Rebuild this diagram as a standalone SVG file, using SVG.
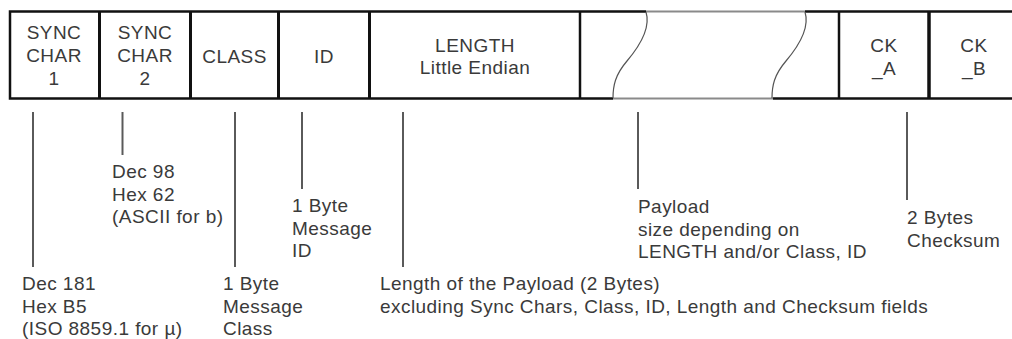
<svg xmlns="http://www.w3.org/2000/svg" width="1012" height="339" viewBox="0 0 1012 339">
<style>
text{font-family:"Liberation Sans",Arial,sans-serif;font-size:19px;letter-spacing:0.45px;fill:#3a3a3a}
.c{text-anchor:middle}
.b{stroke:#111;fill:none}
.g{stroke:#8a8a8a;fill:none;stroke-width:2}
.lead{stroke:#5a5a5a;stroke-width:2;fill:none}
.wave{stroke:#555;stroke-width:1.2;fill:none}
</style>
<rect width="1012" height="339" fill="#fff"/>
<g id="frame">
<polyline class="b" stroke-width="2.5" points="646,11.5 10,11.5 10,98.5 613,98.5"/>
<line class="g" x1="646" y1="11.5" x2="805" y2="11.5"/>
<line class="g" x1="613" y1="98.5" x2="773" y2="98.5"/>
<line class="b" stroke-width="2.5" x1="805" y1="11.5" x2="1012" y2="11.5"/>
<line class="b" stroke-width="2.5" x1="773" y1="98.5" x2="1012" y2="98.5"/>
</g>
<g id="sync1">
<text class="c" x="54" y="39">SYNC</text>
<text class="c" x="54" y="62">CHAR</text>
<text class="c" x="54" y="85">1</text>
</g>
<g id="sync2">
<line class="b" stroke-width="3" x1="99.5" y1="11" x2="99.5" y2="99"/>
<text class="c" x="145" y="39">SYNC</text>
<text class="c" x="145" y="62">CHAR</text>
<text class="c" x="145" y="85">2</text>
</g>
<g id="class">
<line class="b" stroke-width="3" x1="190.5" y1="11" x2="190.5" y2="99"/>
<text class="c" x="234.5" y="63">CLASS</text>
</g>
<g id="id">
<line class="b" stroke-width="3" x1="278.5" y1="11" x2="278.5" y2="99"/>
<text class="c" x="324" y="63">ID</text>
</g>
<g id="length">
<line class="b" stroke-width="3" x1="369.5" y1="11" x2="369.5" y2="99"/>
<line class="b" stroke-width="2.5" x1="580" y1="11" x2="580" y2="99"/>
<text class="c" x="475" y="52">LENGTH</text>
<text class="c" x="475" y="74">Little Endian</text>
</g>
<g id="payload">
<path class="wave" d="M646,12 C651,28 638,48 627,61 C615,75 613,86 613,98"/>
<path class="wave" d="M805,12 C810,28 797,48 786,61 C774,75 772,86 772,98"/>
</g>
<g id="ck_a">
<line class="b" stroke-width="2.5" x1="839" y1="11" x2="839" y2="99"/>
<text class="c" x="884" y="52">CK</text>
<text class="c" x="884" y="75">_A</text>
</g>
<g id="ck_b">
<line class="b" stroke-width="3.5" x1="929" y1="11" x2="929" y2="99"/>
<text class="c" x="974" y="52">CK</text>
<text class="c" x="974" y="75">_B</text>
</g>
<g id="connectors">
<line class="lead" x1="33" y1="112" x2="33" y2="267"/>
<line class="lead" x1="122.5" y1="112" x2="122.5" y2="155"/>
<line class="lead" x1="235" y1="112" x2="235" y2="267"/>
<line class="lead" x1="302" y1="112" x2="302" y2="189"/>
<line class="lead" x1="403" y1="112" x2="403" y2="267"/>
<line class="lead" x1="638" y1="112" x2="638" y2="189"/>
<line class="lead" x1="907" y1="112" x2="907" y2="200"/>
</g>
<g id="note-sync2">
<text x="112" y="178">Dec 98</text>
<text x="112" y="200.5">Hex 62</text>
<text x="112" y="223">(ASCII for b)</text>
</g>
<g id="note-id">
<text x="292" y="212">1 Byte</text>
<text x="292" y="234.5">Message</text>
<text x="292" y="257">ID</text>
</g>
<g id="note-payload">
<text x="638" y="213">Payload</text>
<text x="638" y="235.5">size depending on</text>
<text x="638" y="258">LENGTH and/or Class, ID</text>
</g>
<g id="note-checksum">
<text x="907" y="224">2 Bytes</text>
<text x="907" y="247">Checksum</text>
</g>
<g id="note-sync1">
<text x="22" y="290">Dec 181</text>
<text x="22" y="312.5">Hex B5</text>
<text x="22" y="335">(ISO 8859.1 for µ)</text>
</g>
<g id="note-class">
<text x="223" y="290">1 Byte</text>
<text x="223" y="312.5">Message</text>
<text x="223" y="335">Class</text>
</g>
<g id="note-length">
<text x="380" y="290">Length of the Payload (2 Bytes)</text>
<text x="380" y="312.5">excluding Sync Chars, Class, ID, Length and Checksum fields</text>
</g>
</svg>
